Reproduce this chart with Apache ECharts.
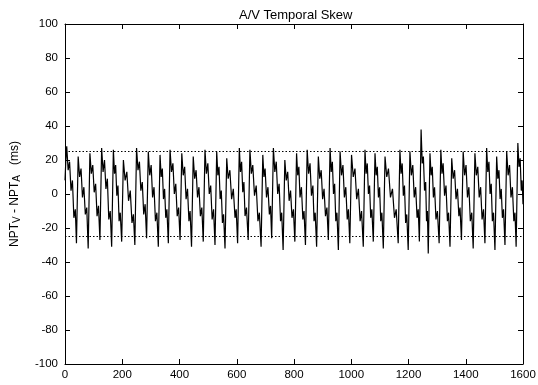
<!DOCTYPE html>
<html>
<head>
<meta charset="utf-8">
<script src="https://cdn.jsdelivr.net/npm/echarts@6/dist/echarts.min.js"></script>
<style>
html,body{margin:0;padding:0;background:#fff;}
#chart{width:538px;height:385px;}
</style>
</head>
<body>
<div id="chart"></div>
<script>
// ---- data ----
var titleText = 'A/V Temporal Skew';
var xTicks = [0, 200, 400, 600, 800, 1000, 1200, 1400, 1600];
var yTicks = [-100, -80, -60, -40, -20, 0, 20, 40, 60, 80, 100];
var thresholdUpper = 25;
var thresholdLower = -25;
// skew samples [frame index, NPT_V - NPT_A in ms]
var skew = [
[0,8],[3,20],
[6,28],[11,14],[16,19],[21,2],[26,8],[31,-14],[36,-9],[40,-29],
[46,22],[51,10],[56,15],[61,-2],[66,4],[71,-12],[76,-8],[81,-32],
[87,24],[92,12],[97,17],[102,1],[107,6],[112,-13],[117,-7],[122,-27],
[128,27],[133,13],[138,20],[143,3],[148,9],[153,-15],[158,-10],[163,-31],
[169,26],[173,12],[177,17],[181,-1],[185,5],[189,-16],[193,-11],[198,-28],
[204,20],[210,8],[216,13],[222,-4],[228,2],[234,-17],[239,-12],[244,-30],
[250,27],[255,14],[260,19],[265,2],[270,7],[275,-12],[280,-6],[285,-26],
[291,25],[296,11],[301,17],[306,-2],[311,4],[316,-16],[321,-11],[326,-31],
[332,23],[336,10],[340,15],[344,-3],[348,3],[352,-14],[356,-9],[361,-29],
[367,26],[372,13],[377,18],[382,0],[387,6],[392,-13],[397,-8],[402,-27],
[408,24],[413,11],[418,16],[423,-3],[428,3],[433,-16],[437,-10],[442,-31],
[448,22],[453,9],[458,14],[463,-2],[468,4],[473,-13],[478,-8],[483,-28],
[489,26],[494,12],[499,18],[504,0],[509,5],[514,-15],[519,-9],[524,-30],
[530,25],[534,11],[538,16],[542,-3],[546,2],[550,-17],[554,-12],[559,-32],
[565,21],[570,9],[576,14],[582,-3],[588,3],[594,-14],[598,-9],[603,-29],
[609,27],[613,13],[617,19],[621,1],[625,7],[629,-13],[634,-8],[640,-27],
[646,26],[651,12],[656,17],[662,-1],[668,5],[674,-16],[679,-11],[685,-31],
[691,23],[695,10],[699,15],[704,-2],[709,4],[714,-12],[718,-7],[722,-26],
[728,27],[733,13],[738,19],[743,0],[748,6],[753,-16],[757,-11],[762,-33],
[768,20],[773,8],[778,13],[783,-4],[788,2],[793,-14],[798,-9],[803,-28],
[809,24],[813,11],[817,16],[821,-2],[826,4],[831,-15],[835,-10],[840,-30],
[846,26],[851,12],[856,18],[861,-1],[866,5],[870,-16],[874,-11],[879,-31],
[885,22],[890,9],[895,14],[900,-3],[905,3],[910,-13],[915,-8],[920,-27],
[926,27],[930,13],[934,19],[938,0],[942,6],[946,-16],[950,-11],[955,-33],
[961,25],[966,11],[971,17],[976,-2],[981,4],[986,-15],[990,-9],[995,-29],
[1001,23],[1007,10],[1013,15],[1019,-3],[1025,3],[1031,-16],[1036,-10],[1042,-31],
[1048,26],[1052,12],[1056,18],[1060,0],[1064,5],[1068,-14],[1072,-9],[1077,-28],
[1083,24],[1087,11],[1091,16],[1095,-2],[1099,4],[1103,-16],[1107,-11],[1112,-32],
[1118,22],[1124,10],[1130,15],[1137,-2],[1144,3],[1151,-14],[1157,-9],[1164,-29],
[1170,26],[1174,12],[1178,18],[1182,-1],[1186,5],[1190,-17],[1194,-12],[1199,-33],
[1205,25],[1210,11],[1215,17],[1220,-2],[1225,4],[1230,-14],[1234,-9],[1238,-28],
[1244,38],[1248,18],[1252,22],[1256,2],[1260,7],[1263,-16],[1266,-10],[1269,-35],
[1275,24],[1279,11],[1283,16],[1287,-2],[1291,4],[1296,-15],[1301,-10],[1307,-29],
[1313,26],[1317,12],[1321,18],[1326,-1],[1331,5],[1336,-16],[1340,-11],[1345,-31],
[1351,21],[1356,9],[1361,14],[1366,-3],[1371,3],[1376,-13],[1380,-8],[1385,-27],
[1391,25],[1396,11],[1401,17],[1406,-2],[1411,4],[1416,-16],[1421,-11],[1426,-32],
[1432,24],[1437,11],[1442,16],[1447,-2],[1452,4],[1457,-15],[1462,-9],[1467,-29],
[1473,27],[1477,13],[1481,19],[1485,0],[1489,6],[1493,-16],[1497,-11],[1502,-33],
[1508,22],[1512,9],[1516,14],[1520,-3],[1524,3],[1528,-14],[1532,-9],[1537,-30],
[1543,25],[1548,11],[1553,17],[1558,-2],[1563,4],[1568,-16],[1572,-11],[1576,-31],
[1582,30],[1586,16],[1590,21],[1594,2],[1597,8],[1600,-6]
];

var FONT = '"Liberation Sans", Arial, Helvetica, sans-serif';
var chart = echarts.init(document.getElementById('chart'), null, {renderer: 'canvas'});

function axisBase(extra) {
  var base = {
    type: 'value',
    axisLine: {show: true, onZero: false, lineStyle: {color: '#000', width: 1}},
    axisTick: {show: true, inside: true, length: 5, lineStyle: {color: '#000', width: 1}},
    splitLine: {show: false},
    axisLabel: {color: '#000', fontSize: 11, fontFamily: FONT}
  };
  for (var k in extra) base[k] = extra[k];
  return base;
}
function plain(v) { return String(v); }

var option = {
  animation: false,
  backgroundColor: '#fff',
  title: {
    text: titleText,
    left: 234,
    top: 4,
    textStyle: {fontSize: 13, fontWeight: 'normal', color: '#000', fontFamily: FONT}
  },
  grid: {left: 65, right: 15, top: 24, bottom: 21, containLabel: false, outerBoundsMode: 'none'},
  xAxis: [
    axisBase({position: 'bottom', min: xTicks[0], max: xTicks[xTicks.length - 1], interval: xTicks[1] - xTicks[0],
      axisLabel: {color: '#000', fontSize: 11.5, fontFamily: FONT, margin: 5, formatter: plain}}),
    axisBase({position: 'top', min: xTicks[0], max: xTicks[xTicks.length - 1], interval: xTicks[1] - xTicks[0],
      axisLabel: {show: false}})
  ],
  yAxis: [
    axisBase({position: 'left', min: yTicks[0], max: yTicks[yTicks.length - 1], interval: yTicks[1] - yTicks[0],
      axisLabel: {color: '#000', fontSize: 11.5, fontFamily: FONT, margin: 7, formatter: plain},
      name: '{p|NPT}{s|V}{p| - NPT}{s|A}{p|   (ms)}',
      nameLocation: 'middle',
      nameRotate: 90,
      nameGap: 43,
      nameTextStyle: {
        color: '#000', fontFamily: FONT, fontSize: 12,
        rich: {
          p: {fontSize: 12, lineHeight: 15, color: '#000', fontFamily: FONT},
          s: {fontSize: 10, lineHeight: 6, verticalAlign: 'bottom', color: '#000', fontFamily: FONT}
        }
      }}),
    axisBase({position: 'right', min: yTicks[0], max: yTicks[yTicks.length - 1], interval: yTicks[1] - yTicks[0],
      axisLabel: {show: false}})
  ],
  series: [{
    type: 'line',
    data: skew,
    showSymbol: false,
    symbol: 'none',
    lineStyle: {color: '#000', width: 1.2},
    markLine: {
      silent: true,
      symbol: 'none',
      label: {show: false},
      lineStyle: {color: '#000', type: [1.5, 2], width: 1},
      data: [{yAxis: thresholdUpper}, {yAxis: thresholdLower}]
    }
  }]
};
chart.setOption(option);
</script>
</body>
</html>
